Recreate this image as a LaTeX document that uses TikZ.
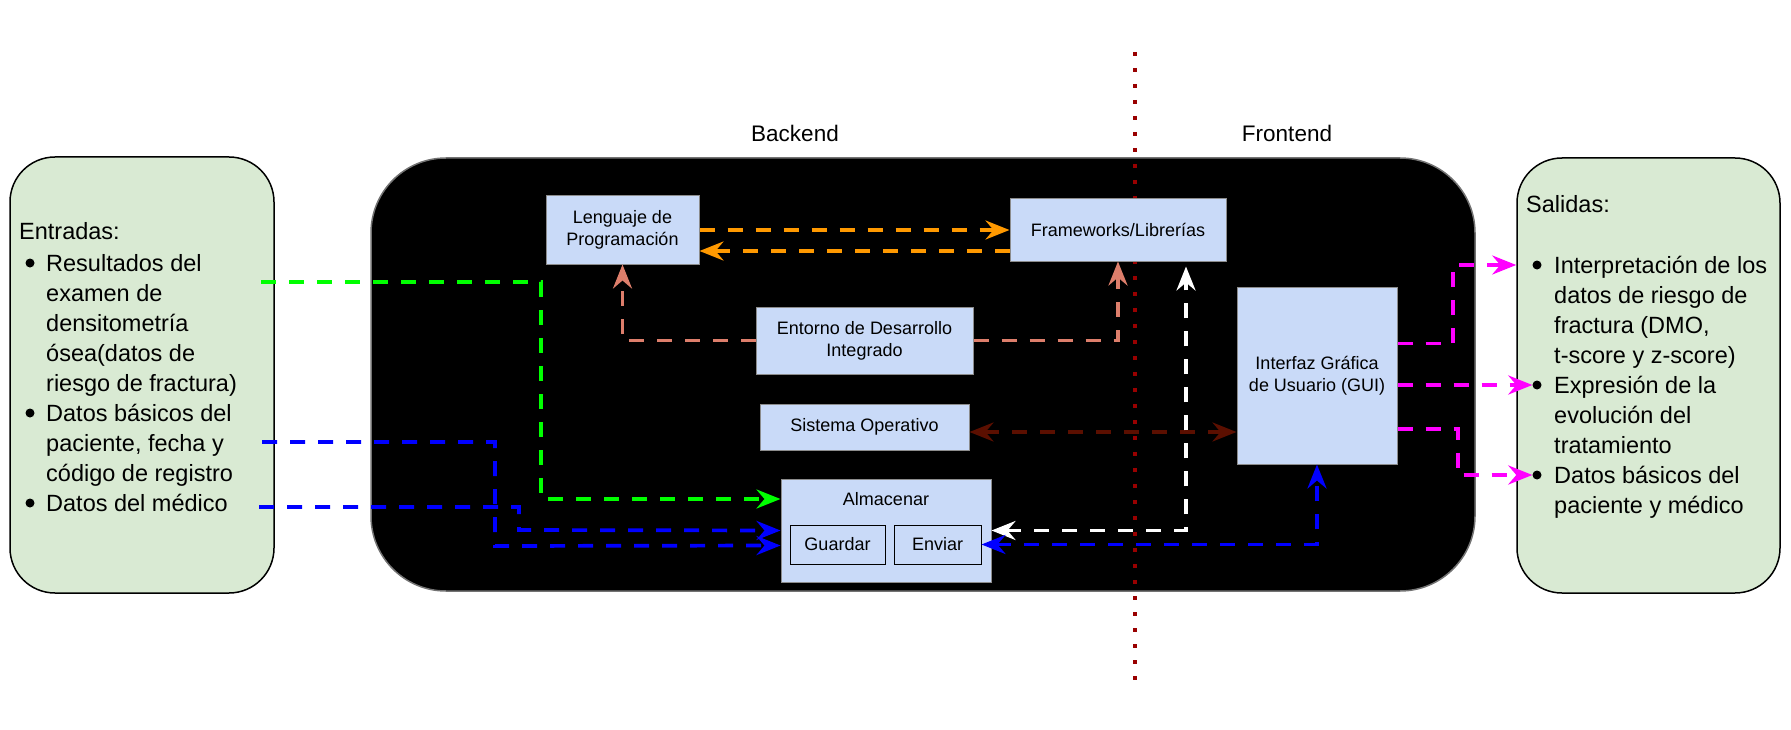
\documentclass[tikz,border=0pt]{standalone}
\usepackage{fontspec}
\setmainfont{Liberation Sans}
\usetikzlibrary{arrows.meta}

\definecolor{boxblue}{HTML}{C9DAF8}
\definecolor{boxgreen}{HTML}{D9EAD3}
\definecolor{salmon}{HTML}{DD7E6B}
\definecolor{rust}{HTML}{5B0F00}
\definecolor{amber}{HTML}{FF9900}
\definecolor{neon}{HTML}{00FF00}
\definecolor{fuchsia}{HTML}{FF00FF}
\definecolor{border}{HTML}{990000}

\tikzset{
	blk/.style={draw=black!45, line width=1pt, fill=boxblue, align=center, inner sep=0pt, font=\fontsize{18}{22}\selectfont},
	sub/.style={blk, draw=black},
	bul/.style={circle, fill=black, inner sep=0pt, minimum size=9pt},
	itm/.style={anchor=base west, inner sep=0pt, font=\fontsize{23.5}{30}\selectfont},
	flow/.style={line width=3.7pt, dash pattern=on 15pt off 13pt, ->},
	twoway/.style={flow, <->},
}

\begin{document}
\begin{tikzpicture}[x=1pt, y=-1pt, >={Stealth[length=24pt, width=19pt, inset=8pt]}]
		\useasboundingbox (0,0) rectangle (1791,730);
		% the system
		\draw[fill=black, draw=black!55, line width=1.5pt, rounded corners=75pt] (371,158) rectangle (1475,591);
		% backend / frontend split
		\draw[border, line width=4pt, dash pattern=on 4pt off 12pt] (1135,52) -- (1135,680);
		\node[font=\fontsize{22.5}{26}\selectfont] (back) at (795,133) {Backend};
		\node[font=\fontsize{22.5}{26}\selectfont] (front) at (1287,133) {Frontend};
		% inputs
		\node[draw, line width=1.5pt, fill=boxgreen, rounded corners=45pt, minimum width=264pt, minimum height=436pt] (inbox) at (142,375) {};
		\node[itm] (intitle) at (19,240) {Entradas:};
		\foreach \y/\n in {263/i1, 413/i2, 503/i3}
		{
			\node[bul] (\n) at (30,\y) {};
		}
		\node[itm] (in1) at (46,271) {\parbox[t]{225pt}{Resultados del\\examen de\\densitometría\\ósea(datos de\\riesgo de fractura)}};
		\node[itm] (in2) at (46,421) {\parbox[t]{225pt}{Datos básicos del\\paciente, fecha y\\código de registro}};
		\node[itm] (in3) at (46,511) {Datos del médico};
		% outputs
		\node[draw, line width=1.5pt, fill=boxgreen, rounded corners=45pt, minimum width=263pt, minimum height=435pt] (outbox) at (1648.5,375.5) {};
		\node[itm] (outtitle) at (1526,213) {Salidas:};
		\foreach \y/\n in {265/o1, 385/o2, 475/o3}
		{
			\node[bul] (\n) at (1537,\y) {};
		}
		\node[itm] (out1) at (1554,273) {\parbox[t]{225pt}{Interpretación de los\\datos de riesgo de\\fractura (DMO,\\t-score y z-score)}};
		\node[itm] (out2) at (1554,393) {\parbox[t]{225pt}{Expresión de la\\evolución del\\tratamiento}};
		\node[itm] (out3) at (1554,483) {\parbox[t]{225pt}{Datos básicos del\\paciente y médico}};
		% components
		\node[blk, minimum width=153pt, minimum height=68pt] (lang) at (622.5,230) {Lenguaje de\\Programación};
		\node[blk, minimum width=216pt, minimum height=62pt] (fw) at (1118,230) {Frameworks/Librerías};
		\node[blk, minimum width=217pt, minimum height=67pt] (ide) at (864.5,340.5) {Entorno de Desarrollo\\Integrado};
		\node[blk, minimum width=209pt, minimum height=46pt] (os) at (864.5,427) {Sistema Operativo};
		\node[blk, minimum width=210pt, minimum height=103pt] (alm) at (886,530.5) {};
		\node[font=\fontsize{18}{22}\selectfont] (almtxt) at (886,499) {Almacenar};
		\node[sub, minimum width=95pt, minimum height=39pt] (save) at (837.5,544.5) {Guardar};
		\node[sub, minimum width=87pt, minimum height=39pt] (send) at (937.5,544.5) {Enviar};
		\node[blk, minimum width=160pt, minimum height=177pt] (gui) at (1317,375.5) {Interfaz Gráfica\\de Usuario (GUI)};
		% links inside the system
		\draw[flow, amber] (lang.east) -- (fw.west);
		\draw[flow, amber] ([yshift=-21pt]fw.west) -- ([yshift=-21pt]lang.east);
		\draw[flow, salmon] (ide.west) -| (lang.south);
		\draw[flow, salmon] (ide.east) -| (fw.south);
		\coordinate (osr) at ([yshift=-5pt]os.east);
		\draw[twoway, rust] (osr) -- (osr -| gui.west);
		\draw[twoway, white, shorten >=5pt] (alm.east) -| ([xshift=68pt]fw.south);
		\draw[twoway, blue] (send.east) -| (gui.south);
		% data coming in
		\coordinate (g0) at (261,282);
		\coordinate (b0) at (262,442);
		\coordinate (b1) at (259,507);
		\draw[flow, neon] (g0) -| (541,499) -- (alm.west |- almtxt);
		\draw[flow, blue] (b0) -| (495,546) -- ([yshift=-15pt]alm.west);
		\draw[flow, blue] (b1) -| (519,530) -- (alm.west);
		% data going out
		\coordinate (m1) at (1453,265);
		\coordinate (m3) at (1458,429);
		\draw[flow, fuchsia] ([yshift=32pt]gui.east) -| (m1) -- (m1 -| outbox.west);
		\draw[flow, fuchsia] (gui.east |- o2) -- (o2);
		\draw[flow, fuchsia] (gui.east |- m3) -- (m3) |- (o3);
	\end{tikzpicture}
\end{document}
